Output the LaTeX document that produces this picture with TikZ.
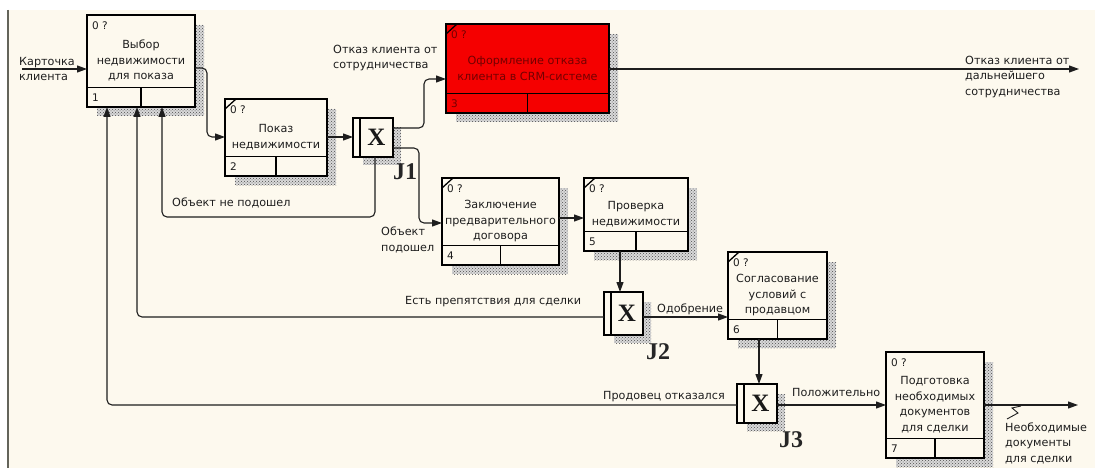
\documentclass[tikz,border=0pt]{standalone}
\usepackage{fontspec}
\setmainfont{DejaVu Sans}
\newfontfamily\jfont{Liberation Serif}
\usetikzlibrary{arrows.meta,patterns}
\definecolor{cream}{RGB}{253,249,238}
\definecolor{crmred}{RGB}{245,0,0}
\definecolor{darkred}{RGB}{115,0,0}
\definecolor{inkc}{RGB}{30,30,30}
\definecolor{framec}{RGB}{100,100,90}

\tikzset{
 hatchshadow/.style={fill=black!15, postaction={pattern=crosshatch dots, pattern color=black!70}},
 idefbox/.style={draw=black, line width=1.8pt, fill=cream, inner sep=0pt, outer sep=0pt},
 boxline/.style={draw=black, line width=1.6pt},
 boxtxt/.style={align=center, inner sep=0pt, text=inkc, font=\fontsize{11.2}{15.5}\selectfont},
 boxnum/.style={inner sep=0pt, text=inkc, font=\fontsize{10.5}{12}\selectfont, anchor=west},
 jbox/.style={draw=black, line width=1.8pt, fill=cream, inner sep=0pt, outer sep=0pt, minimum width=40pt},
 jx/.style={font=\jfont\bfseries\fontsize{25}{25}\selectfont, inner sep=0pt, text=black!90},
 jlab/.style={font=\jfont\bfseries\fontsize{24}{24}\selectfont, inner sep=0pt, text=black!85},
 conn/.style={draw=inkc, line width=1.1pt, rounded corners=5pt},
 arr/.style={-{Triangle[length=10pt,width=7pt]}},
 lab/.style={inner sep=0pt, text=inkc, align=left, anchor=west, font=\fontsize{11.2}{15.5}\selectfont},
}

% name, left, top, right, bottom, number, text
\newcommand{\IdefBox}[7]{%
 \path[hatchshadow] ({#4},{#3+10}) rectangle ({#4+9},{#5+9});
 \path[hatchshadow] ({#2+10},{#5}) rectangle ({#4},{#5+9});
 \node[idefbox, minimum width={(#4-#2)*1pt}, minimum height={(#5-#3)*1pt}] (#1) at ({(#2+#4)/2},{(#3+#5)/2}) {};
 \draw[boxline] ({#2},{#5-19.5}) -- ({#4},{#5-19.5});
 \draw[boxline] ({(#2+#4)/2},{#5-19.5}) -- ({(#2+#4)/2},{#5});
 \node[boxtxt] (#1t) at ({(#2+#4)/2},{(#3+#5-19.5)/2+9.5}) {#7};
 \node[boxnum] (#1z) at ({#2+5},{#3+11}) {0 ?};
 \node[boxnum] (#1n) at ({#2+5},{#5-9.5}) {#6};
}
% name, left, top, right, bottom
\newcommand{\JBox}[5]{%
 \path[hatchshadow] ({#4},{#3+10}) rectangle ({#4+8},{#5+8});
 \path[hatchshadow] ({#2+10},{#5}) rectangle ({#4},{#5+8});
 \node[jbox, minimum width={(#4-#2)*1pt}, minimum height={(#5-#3)*1pt}] (#1) at ({(#2+#4)/2},{(#3+#5)/2}) {};
 \draw[boxline] ({#2+7},{#3}) -- ({#2+7},{#5});
 \node[jx] (#1x) at ({(#2+#4)/2+3.5},{(#3+#5)/2}) {X};
}

\begin{document}
\begin{tikzpicture}[x=1pt,y=-1pt]
\useasboundingbox (0,0) rectangle (1095,468);
\fill[white] (0,0) rectangle (1095,468);
\fill[cream] (8,10) rectangle (1095,468);
\draw[framec, line width=2pt] (8,10) -- (8,468);

% activity boxes
\IdefBox{b1}{87}{15}{195}{107}{1}{Выбор\\недвижимости\\для показа}
\IdefBox{b2}{225}{99}{327}{176}{2}{Показ\\недвижимости}
\begin{scope}
\tikzset{idefbox/.append style={fill=crmred}, boxtxt/.append style={text=darkred}, boxnum/.append style={text=darkred}}
\IdefBox{b3}{446}{24}{609}{113}{3}{Оформление отказа\\клиента в CRM-системе}
\end{scope}
\IdefBox{b4}{442}{178}{559}{265}{4}{Заключение\\предварительного\\договора}
\IdefBox{b5}{584}{178}{688}{251}{5}{Проверка\\недвижимости}
\IdefBox{b6}{728}{252}{827}{339}{6}{Согласование\\условий с\\продавцом}
\IdefBox{b7}{886}{352}{984}{458}{7}{Подготовка\\необходимых\\документов\\для сделки}

% corner slashes
\foreach \b in {b2,b3,b4,b5,b6}
  \draw[boxline, line width=1.3pt] ([yshift=-10pt]\b.north west) -- ([xshift=11pt]\b.north west);

% junctions
\JBox{j1}{353}{118}{393}{157}
\JBox{j2}{604}{292}{643}{335}
\JBox{j3}{737}{384}{777}{423}
\node[jlab] (j1l) at (405,172) {J1};
\node[jlab] (j2l) at (658,352) {J2};
\node[jlab] (j3l) at (791,440) {J3};

% connectors
\coordinate (in1) at (22,69);
\draw[conn,arr] (in1) -- (b1.west |- in1);
\draw[conn,arr] (b1.east |- 0,68) -- (207,68) -- (207,137) -- (b2.west |- 0,137);
\draw[conn,arr] (b2.east |- 0,137) -- (j1.west |- 0,137);
\draw[conn,arr] (j1.east |- 0,128) -- (424,128) -- (424,79) -- (b3.west |- 0,79);
\coordinate (out3) at (1079,69);
\draw[conn,arr] (b3.east |- out3) -- (out3);
\draw[conn,arr] (j1.south -| 375,0) -- (375,217) -- (162,217) -- (b1.south -| 162,0);
\draw[conn,arr] (j1.east |- 0,148) -- (419,148) -- (419,223) -- (b4.west |- 0,223);
\draw[conn,arr] (b4.east |- 0,218) -- (b5.west |- 0,218);
\draw[conn,arr] (b5.south -| 620,0) -- (j2.north -| 620,0);
\draw[conn,arr] (j2.west |- 0,317) -- (137,317) -- (b1.south -| 137,0);
\draw[conn,arr] (j2.east |- 0,317) -- (b6.west |- 0,317);
\draw[conn,arr] (b6.south -| 759,0) -- (j3.north -| 759,0);
\draw[conn,arr] (j3.west |- 0,405) -- (107,405) -- (b1.south -| 107,0);
\draw[conn,arr] (j3.east |- 0,405) -- (b7.west |- 0,405);
\coordinate (out7) at (1078,405);
\draw[conn,arr] (b7.east |- out7) -- (out7);
\draw[inkc, line width=0.9pt] (1021,406) -- (1012,408) -- (1018,413) -- (1007,419);

% labels
\node[lab] (l1) at (19,69) {Карточка\\клиента};
\node[lab] (l2) at (333,58) {Отказ клиента от\\сотрудничества};
\node[lab] (l3) at (965,77) {Отказ клиента от\\дальнейшего\\сотрудничества};
\node[lab] (l4) at (172,203) {Объект не подошел};
\node[lab] (l5) at (381,240) {Объект\\подошел};
\node[lab] (l6) at (405,302) {Есть препятствия для сделки};
\node[lab] (l7) at (657,309) {Одобрение};
\node[lab] (l8) at (603,397) {Продовец отказался};
\node[lab] (l9) at (792,392) {Положительно};
\node[lab] (l10) at (1005,443) {Необходимые\\документы\\для сделки};
\end{tikzpicture}
\end{document}
